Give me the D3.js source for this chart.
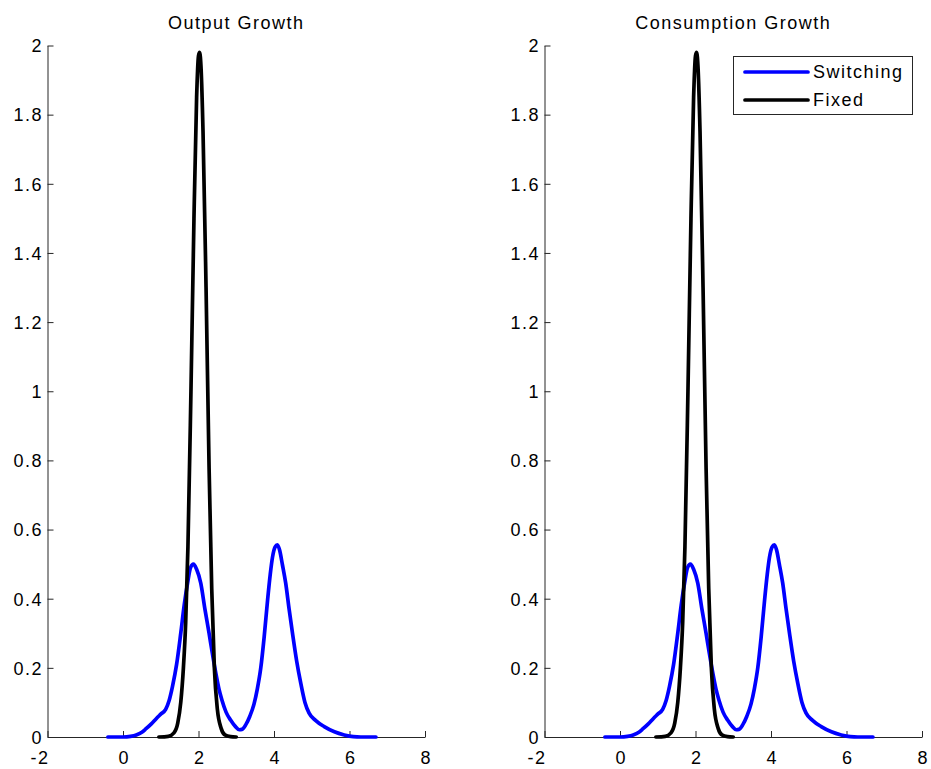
<!DOCTYPE html>
<html>
<head>
<meta charset="utf-8">
<script src="https://cdn.jsdelivr.net/npm/d3@7"></script>
<style>
  body { margin: 0; background: #fff; }
  text { font-family: "Liberation Sans", Arial, sans-serif; font-size: 18px; letter-spacing: 1.5px; fill: #000; }
</style>
</head>
<body>
<div id="chart"></div>
<script>
// kernel densities, [x, density]
const outputSwitching = [
  [-0.4, 0], [0.0, 0], [0.2, 0.002], [0.35, 0.006], [0.5, 0.014], [0.61, 0.024], [0.75, 0.038],
  [0.88, 0.053], [1.0, 0.066], [1.13, 0.08], [1.22, 0.105], [1.31, 0.146], [1.42, 0.21],
  [1.53, 0.30], [1.62, 0.38], [1.71, 0.445], [1.79, 0.49], [1.865, 0.50], [1.95, 0.485],
  [2.06, 0.445], [2.17, 0.37], [2.28, 0.30], [2.37, 0.24], [2.46, 0.184], [2.54, 0.14],
  [2.62, 0.107], [2.73, 0.072], [2.85, 0.049], [2.98, 0.03], [3.08, 0.021], [3.15, 0.022],
  [3.25, 0.035], [3.36, 0.06], [3.47, 0.095], [3.56, 0.14], [3.65, 0.2], [3.74, 0.29],
  [3.83, 0.396], [3.9, 0.47], [3.96, 0.52], [4.03, 0.55], [4.09, 0.556], [4.15, 0.54],
  [4.22, 0.5], [4.31, 0.445], [4.4, 0.37], [4.49, 0.30], [4.6, 0.22], [4.71, 0.155],
  [4.82, 0.1], [4.93, 0.069], [5.1, 0.048], [5.33, 0.03], [5.6, 0.015], [5.86, 0.006],
  [6.1, 0.001], [6.3, 0], [6.7, 0]
]
const outputFixed = [
  [0.95, 0], [1.2, 0.002], [1.35, 0.012], [1.45, 0.04], [1.53, 0.1], [1.6, 0.2], [1.66, 0.33],
  [1.72, 0.55], [1.8, 1.0], [1.88, 1.5], [1.95, 1.85], [2.0, 1.97], [2.03, 1.98], [2.07, 1.93],
  [2.12, 1.75], [2.2, 1.3], [2.28, 0.78], [2.35, 0.43], [2.42, 0.2], [2.5, 0.08], [2.6, 0.025],
  [2.7, 0.006], [2.85, 0.001], [3.0, 0]
]
const consumptionSwitching = outputSwitching.map(d => d.slice())
const consumptionFixed = outputFixed.map(d => d.slice())

const titles = ['Output Growth', 'Consumption Growth']
const seriesNames = ['Switching', 'Fixed']
const seriesColors = ['#0000ff', '#000000']
const xTicks = [-2, 0, 2, 4, 6, 8]
const yTicks = [0, 0.2, 0.4, 0.6, 0.8, 1, 1.2, 1.4, 1.6, 1.8, 2]

const W = 931, H = 769
const panels = [
  { left: 47.5, right: 425, series: [outputSwitching, outputFixed] },
  { left: 544.5, right: 922, series: [consumptionSwitching, consumptionFixed], legend: true }
]
const plotTop = 45.5, plotBottom = 737
const fmt = d => String(d) // plain hyphen, no trailing zeros

const svg = d3.select('#chart').append('svg')
  .attr('width', W)
  .attr('height', H)

panels.forEach((p, i) => {
  const x = d3.scaleLinear().domain([-2, 8]).range([p.left, p.right])
  const y = d3.scaleLinear().domain([0, 2]).range([plotBottom, plotTop])
  const g = svg.append('g')

  const yAxis = g.append('g')
    .attr('transform', `translate(${p.left},0)`)
    .call(d3.axisLeft(y).tickValues(yTicks).tickFormat(fmt).tickSize(-6).tickSizeOuter(0).tickPadding(6))
  const xAxis = g.append('g')
    .attr('transform', `translate(0,${plotBottom})`)
    .call(d3.axisBottom(x).tickValues(xTicks).tickFormat(fmt).tickSize(-6).tickSizeOuter(0).tickPadding(0))

  ;[xAxis, yAxis].forEach(a => {
    a.attr('font-family', null).attr('font-size', null)
    a.selectAll('path, line').attr('stroke', '#262626')
  })
  yAxis.selectAll('text').attr('dx', '1.5px').attr('dy', '0.35em')
  xAxis.selectAll('text')
    .attr('y', 27)
    .attr('dy', null)
    .attr('text-anchor', d => d < 0 ? 'end' : 'middle')
    .attr('dx', d => d < 0 ? '1.5px' : '0.75px')

  g.append('text')
    .attr('x', (p.left + p.right) / 2)
    .attr('y', 29)
    .attr('text-anchor', 'middle')
    .text(titles[i])

  const line = d3.line()
    .x(d => x(d[0]))
    .y(d => y(d[1]))
    .curve(d3.curveMonotoneX)

  // blue first, black on top
  p.series.forEach((s, k) => {
    g.append('path')
      .attr('d', line(s))
      .attr('fill', 'none')
      .attr('stroke', seriesColors[k])
      .attr('stroke-width', 3.7)
      .attr('stroke-linejoin', 'round')
      .attr('stroke-linecap', 'round')
  })

  if (p.legend) {
    const lg = g.append('g').attr('transform', 'translate(733,56)')
    lg.append('rect')
      .attr('x', 0.5).attr('y', 0.5)
      .attr('width', 179).attr('height', 58)
      .attr('fill', '#fff')
      .attr('stroke', '#262626')
    seriesNames.forEach((n, k) => {
      const ly = 16 + k * 28
      lg.append('line')
        .attr('x1', 12).attr('x2', 75)
        .attr('y1', ly).attr('y2', ly)
        .attr('stroke', seriesColors[k])
        .attr('stroke-width', 3.7)
        .attr('stroke-linecap', 'round')
      lg.append('text')
        .attr('x', 80).attr('y', ly)
        .attr('dy', '0.35em')
        .text(n)
    })
  }
})
</script>
</body>
</html>
